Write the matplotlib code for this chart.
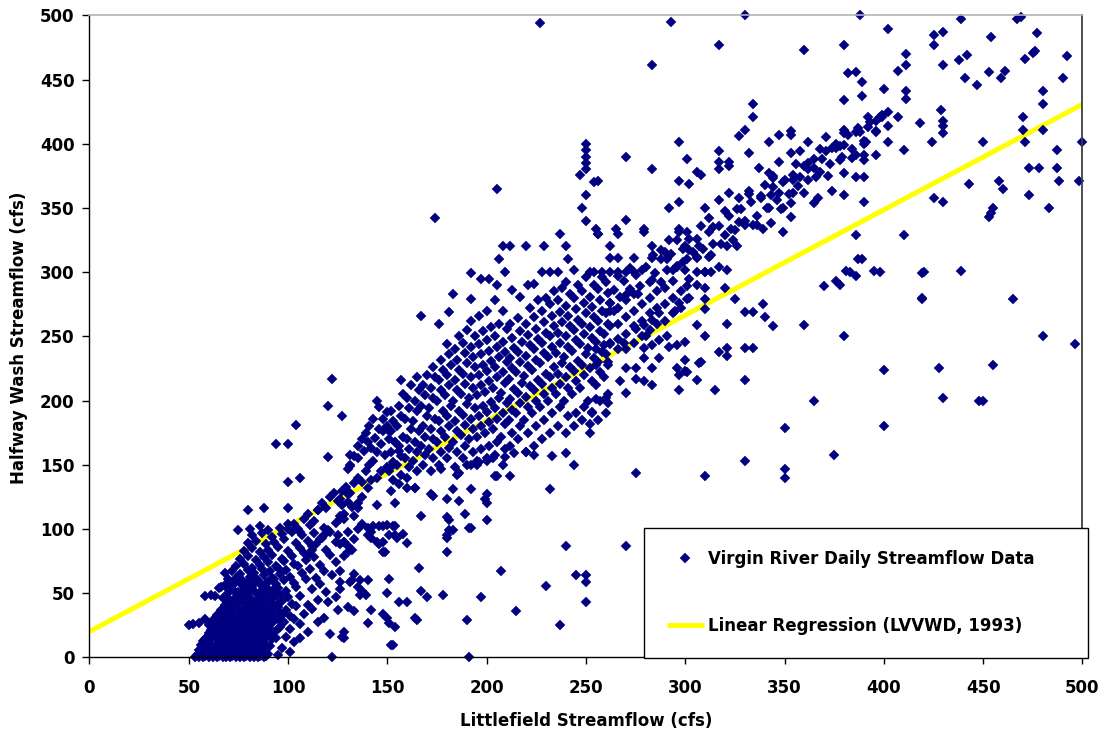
import matplotlib
matplotlib.use("Agg")
import matplotlib.pyplot as plt
from matplotlib.lines import Line2D

# ---- Data: (Littlefield cfs, Halfway Wash cfs) daily pairs, grouped by flow range ----
low_flow = [
    (50,25),(52,26),(55,27),(58,30),(61,49),(65,54),(68,56),
    (53,0),(55,0),(57,0),(60,0),(62,0),(64,0),(67,0),(69,0),(71,0),(74,0),(76,0),(78,0),(81,0),(83,0),(85,0),(88,0),
    (56,4),(59,3),(63,5),(66,3),(70,4),(73,6),(77,3),(80,5),(84,4),(87,2),(90,3),(95,2),(101,4),
    (58,8),(61,9),(65,7),(68,10),(72,8),(75,9),(79,7),(82,10),(86,8),(89,9),(97,7),
    (57,13),(60,12),(64,14),(67,11),(71,13),(74,12),(78,14),(81,11),(85,13),(88,12),(92,14),(103,12),
    (59,16),(62,18),(66,16),(69,17),(73,15),(76,18),(80,16),(83,17),(87,15),(90,18),(99,16),(106,15),
    (61,21),(64,20),(68,22),(71,19),(75,21),(78,20),(82,22),(85,19),(89,21),(93,20),(101,22),(110,20),
    (60,25),(63,24),(67,26),(70,23),(74,25),(77,24),(81,26),(84,23),(88,25),(92,27),(96,24),(106,26),
    (62,29),(65,28),(69,30),(72,27),(76,29),(79,28),(83,30),(86,27),(90,29),(94,31),(98,28),(103,30),(115,28),
    (64,33),(67,32),(71,34),(74,31),(78,33),(81,32),(85,34),(88,31),(92,33),(96,35),(101,32),(108,34),(118,31),
    (66,37),(70,36),(73,38),(77,35),(80,37),(84,36),(87,38),(91,36),(95,39),(99,37),(104,40),(112,38),
    (68,41),(72,40),(75,42),(79,39),(82,41),(86,40),(89,43),(93,41),(97,44),(102,42),(110,41),(120,43),
    (67,46),(71,45),(74,47),(78,44),(81,46),(85,45),(88,48),(92,46),(96,49),(100,47),(106,48),(115,45),(124,47),
    (58,48),(63,48),(70,50),(73,52),(77,49),(80,51),(84,50),(88,53),(91,51),(95,54),(99,52),(104,55),(112,53),(119,51),
    (66,55),(69,57),(72,56),(76,58),(79,55),(83,57),(87,56),(90,59),(94,57),(98,60),(103,58),(109,61),(116,57),
    (70,61),(74,62),(77,60),(81,63),(84,61),(88,64),(92,62),(96,65),(101,63),(107,66),(114,62),(122,64),
    (68,66),(72,67),(76,65),(80,68),(83,66),(87,69),(91,67),(95,70),(99,68),(105,71),(111,69),(118,67),
    (74,71),(78,73),(82,70),(86,72),(90,74),(94,71),(98,75),(103,73),(109,76),(116,72),(124,74),
    (76,77),(80,79),(84,76),(88,78),(92,80),(97,77),(102,79),(108,81),(113,78),(121,80),
    (78,83),(82,85),(86,82),(90,84),(95,86),(100,83),(106,85),(112,87),(119,84),
    (80,89),(84,91),(89,88),(93,90),(98,92),(104,89),(110,91),(117,93),(124,90),
    (82,95),(87,97),(92,94),(97,96),(102,98),(107,95),(113,97),(120,99),
    (81,100),(86,102),(90,99),(96,101),(100,104),(105,100),(111,103),(118,101),
]

low_flow_core = [
    (54,2),(58,1),(61,2),(65,1),(68,2),(72,1),(75,2),(79,1),(82,2),(86,1),(89,1),
    (55,6),(58,6),(62,5),(66,6),(69,5),(73,3),(76,5),(80,8),(83,6),(87,6),
    (56,10),(59,11),(63,9),(66,12),(70,10),(73,9),(77,11),(80,13),(84,10),(87,11),(91,9),
    (58,14),(61,15),(65,14),(68,13),(72,16),(75,14),(79,12),(82,15),(86,14),(89,16),(94,15),
    (60,19),(63,17),(67,19),(70,21),(74,18),(77,17),(81,19),(84,21),(88,18),(91,22),
    (62,23),(66,22),(69,25),(73,22),(76,27),(80,23),(83,25),(87,22),(90,25),(95,22),
    (63,27),(67,29),(71,26),(75,31),(78,26),(82,27),(85,31),(89,27),(92,29),
    (65,31),(69,33),(73,30),(76,34),(80,31),(84,29),(87,34),(91,32),(95,30),
    (67,35),(71,38),(75,33),(79,37),(82,35),(86,33),(89,36),(93,38),(97,33),
    (69,39),(73,42),(77,37),(81,43),(84,38),(88,44),(91,40),(95,42),
    (70,44),(76,45),(80,48),(83,43),(87,47),(90,45),(94,48),
    (72,53),(75,51),(78,53),(82,54),(86,51),(89,55),(93,53),
    (73,58),(77,57),(80,59),(85,60),(89,58),(93,61),
]

rising_limb = [
    (100,100),(103,104),(106,98),(108,108),(110,112),(113,106),(115,115),(117,120),(119,116),(121,125),
    (123,128),(125,122),(127,130),(129,133),(131,128),(133,136),(135,140),(137,137),(139,145),(141,150),
    (143,153),(145,160),(147,166),(149,158),(151,170),(150,180),(148,176),(146,195),(145,200),(143,186),
    (141,180),(139,175),(137,170),(135,165),(133,157),(131,150),(130,147),(135,155),(138,161),(140,168),
    (142,163),(144,171),(146,178),(148,186),(150,191),(152,176),(154,168),(156,161),(153,150),(150,148),
    (147,145),(145,140),(142,138),(140,132),(137,125),(135,120),(132,117),(130,121),(128,112),(126,110),
    (124,105),(121,98),(118,95),(116,92),(114,88),(112,84),(110,80),(125,95),(128,90),(130,87),(132,84),
    (135,100),(137,104),(140,101),(142,93),
    (94,166),(100,166),(104,181),(100,137),(106,140),(80,115),(88,116),(100,116),(115,115),(75,99),
    (120,196),(122,217),(127,188),(120,156),(131,158),(131,149),
]

mid_lower = [
    (191,0),(153,10),(128,20),(128,15),(140,27),(133,36),(130,39),(142,37),(148,34),(150,31),(151,27),
    (154,24),(165,29),(190,29),(215,36),(237,25),(160,43),(170,47),(167,52),(178,49),(197,47),(207,67),
    (230,56),(245,64),(250,64),(250,59),(250,43),(240,87),(166,70),(151,61),(150,50),(136,60),(133,65),
    (132,60),(140,60),(135,55),(136,49),(139,49),(126,67),(126,59),(126,53),(180,82),(183,99),(180,95),
    (180,93),(183,131),(180,123),(180,109),(192,131),(189,112),(192,101),(200,127),(200,120),(200,107),
    (173,126),(177,147),(186,144),(185,142),(190,150),(195,153),(195,150),(200,153),(203,155),(205,141),
    (209,156),(212,141),(214,159),(220,160),(224,158),(233,157),(240,159),(244,150),(232,131),(160,132),
    (164,132),(167,110),(160,89),(154,120),(154,102),(154,95),(150,103),(151,95),(145,119),(145,90),
    (148,90),(149,82),(142,98),(140,95),(143,102),(146,102),(130,98),(128,90),(126,88),(130,82),(128,79),
    (133,92),(126,108),(128,108),(133,110),(135,116),(130,127),(126,123),(127,119),(122,0),(121,18),
    (127,16),(125,37),(131,59),(137,52),(152,10),(156,43),(155,93),(153,102),(148,102),(146,88),(148,82),
    (158,96),(164,31),(172,127),(181,99),(181,107),(186,122),(191,101),(199,123),(204,141),(270,87),
    (275,144),(174,342),(205,365),
]

main_body = [
    (152,130),(153,138),(151,145),(153,152),(152,160),(154,168),(151,176),(153,184),(152,192),
    (156,135),(157,142),(155,150),(157,157),(156,165),(158,172),(155,180),(157,188),(156,196),(158,205),(157,216),
    (160,140),(161,148),(159,155),(161,162),(160,170),(162,178),(159,186),(161,194),(160,202),(162,212),
    (164,132),(165,145),(163,153),(165,160),(164,168),(166,176),(163,184),(165,192),(164,200),(166,208),(165,218),
    (168,150),(169,158),(167,165),(169,172),(168,180),(170,188),(167,196),(169,204),(168,212),(170,220),(167,266),
    (172,145),(173,155),(171,162),(173,170),(172,178),(174,186),(171,194),(173,202),(172,210),(174,218),(173,226),
    (176,150),(177,160),(175,168),(177,176),(176,184),(178,192),(175,200),(177,208),(176,216),(178,224),(177,232),(176,260),
    (180,155),(181,163),(179,172),(181,180),(180,188),(182,196),(179,204),(181,212),(180,220),(182,228),(181,236),(180,244),(181,269),
    (184,148),(185,160),(183,168),(185,176),(184,184),(186,192),(183,200),(185,208),(184,216),(186,224),(185,232),(184,240),(186,250),(183,283),
    (188,155),(189,165),(187,173),(189,181),(188,189),(190,197),(187,205),(189,213),(188,221),(190,229),(189,237),(188,245),(190,255),
    (192,150),(193,160),(191,170),(193,178),(192,186),(194,194),(191,202),(193,210),(192,218),(194,226),(193,234),(192,242),(194,250),(192,262),(192,279),(192,299),
    (196,152),(197,162),(195,172),(197,180),(196,188),(198,196),(195,204),(197,212),(196,220),(198,228),(197,236),(196,244),(198,254),(196,266),(197,295),
    (200,155),(201,165),(199,175),(201,183),(200,191),(202,199),(199,207),(201,215),(200,223),(202,231),(201,239),(200,247),(202,257),(200,270),(201,295),
    (204,158),(205,168),(203,178),(205,186),(204,194),(206,202),(203,210),(205,218),(204,226),(206,234),(205,242),(204,250),(206,260),(204,278),(205,290),(206,310),
    (208,150),(209,162),(207,172),(209,182),(208,190),(210,198),(207,206),(209,214),(208,222),(210,230),(209,238),(208,246),(210,256),(208,270),(209,300),(208,320),
    (212,165),(213,175),(211,185),(213,193),(212,201),(214,209),(211,217),(213,225),(212,233),(214,241),(213,249),(212,260),(213,286),(212,320),
    (216,170),(217,180),(215,190),(217,198),(216,206),(218,214),(215,222),(217,230),(216,238),(218,246),(217,254),(216,264),(217,281),
    (220,160),(221,175),(219,185),(221,195),(220,203),(222,211),(219,219),(221,227),(220,235),(222,243),(221,251),(220,260),(222,272),(221,290),(220,320),
    (224,165),(225,180),(223,190),(225,200),(224,208),(226,216),(223,224),(225,232),(224,240),(226,248),(225,256),(224,265),(226,278),(224,291),
    (228,170),(229,185),(227,195),(229,205),(228,213),(230,221),(227,229),(229,237),(228,245),(230,253),(229,261),(228,270),(230,280),(228,300),(229,320),
    (232,175),(233,190),(231,200),(233,210),(232,218),(234,226),(231,234),(233,242),(232,250),(234,258),(233,266),(232,275),(234,285),(232,300),
    (236,180),(237,195),(235,205),(237,213),(236,221),(238,229),(235,237),(237,245),(236,253),(238,261),(237,269),(236,278),(238,288),(236,300),(237,330),
    (240,175),(241,188),(239,200),(241,210),(240,218),(242,226),(239,234),(241,242),(240,250),(242,258),(241,266),(240,274),(242,283),(240,292),(241,310),(240,320),
    (244,180),(245,190),(243,205),(245,215),(244,223),(246,231),(243,239),(245,247),(244,255),(246,263),(245,271),(244,280),(246,290),(244,302),
    (248,185),(249,195),(247,210),(249,220),(248,228),(250,236),(247,244),(249,252),(248,260),(250,268),(249,276),(248,285),(250,296),(248,350),(247,376),
    (252,175),(253,190),(251,200),(253,215),(252,225),(254,233),(251,241),(253,249),(252,257),(254,265),(253,273),(252,281),(254,290),(252,300),
    (250,340),(250,360),(250,380),(250,385),(250,390),(250,395),(250,400),(254,370),
    (256,185),(257,200),(255,212),(257,222),(256,230),(258,238),(255,246),(257,254),(256,262),(258,270),(257,278),(256,287),(258,296),(256,330),
    (260,190),(261,205),(259,218),(261,228),(260,236),(262,244),(259,252),(261,260),(260,268),(262,276),(261,284),(260,292),(262,300),
    (262,258),(262,270),(266,260),(266,272),(270,252),(270,265),(270,278),(274,258),(274,270),(274,283),
    (278,262),(278,275),(282,268),(282,280),(286,272),(286,285),(290,275),(290,288),(294,280),(294,293),
    (298,285),(302,295),(306,300),(262,245),(266,248),(270,240),(274,245),(278,250),(282,255),(286,260),
    (290,262),(294,268),(298,272),(302,280),(306,290),(310,300),
]

upper_ridge = [
    (262,276),(264,286),(267,281),(269,293),(272,287),(275,298),(277,289),(280,304),(283,294),(285,299),
    (288,310),(291,302),(293,314),(296,305),(299,318),(301,310),(304,316),(306,326),(309,318),(312,331),
    (314,322),(317,336),(320,329),(322,344),(325,333),(328,349),(330,340),(333,355),(336,344),(338,358),
    (341,350),(344,366),(346,356),(349,370),(352,361),(354,376),(357,367),(360,383),(362,372),(365,388),
    (368,378),(371,394),(373,384),(376,400),(379,390),(382,407),(384,396),(387,412),(390,402),(393,417),
    (396,409),(399,422),(402,414),
    (266,297),(272,303),(278,302),(284,313),(290,316),(296,325),(302,326),(308,336),(314,335),(320,348),
    (326,349),(332,361),(338,359),(344,373),(350,372),(356,384),(362,385),(368,396),(374,397),(380,408),
    (386,409),(392,421),(398,421),
    (264,270),(270,282),(276,283),(282,292),(288,292),(294,302),(300,302),(306,312),(312,312),(318,322),
    (324,325),(330,337),(336,337),(342,350),(348,349),(354,362),(360,362),(366,374),(372,375),(378,387),
    (384,389),(390,400),
    (256,330),(266,330),(279,331),(297,331),(301,331),(349,331),(262,320),(283,320),(288,317),(292,325),
    (300,320),(302,317),(307,320),(313,313),(321,320),(326,320),(262,311),(266,311),(274,311),(283,311),
    (291,310),(296,304),(299,308),(306,311),(310,300),(313,300),(317,304),(321,302),(254,300),(258,300),
    (266,300),(270,300),(274,300),(255,334),(265,334),(279,334),(297,334),(312,342),(323,334),
    (327,339),(334,337),(339,334),(343,338),(353,343),(270,341),(292,350),(297,355),(310,350),(317,356),
    (322,362),(332,363),(327,358),(337,381),(342,377),(344,375),(347,386),(340,368),(343,360),(347,362),
    (349,350),(353,354),(354,372),(358,374),(362,380),(365,381),(369,388),(367,358),(365,354),(374,363),
    (256,371),(283,380),(301,388),(306,378),(308,376),(297,371),(302,369),(317,386),(317,380),(322,386),
    (322,383),(270,390),(297,401),(317,394),(332,393),(347,407),(342,401),(353,410),(353,407),(353,393),
    (358,394),(362,401),(371,405),(376,397),(327,406),(330,411),(334,421),(334,431),
]

high_flow = [
    (227,494),(293,495),(330,500),(388,500),(317,477),(283,461),(360,473),(380,477),(402,489),(425,485),
    (430,487),(425,477),(439,497),(467,497),(469,499),(454,483),(477,486),(411,470),(411,461),(407,457),
    (430,461),(438,465),(442,469),(471,466),(475,471),(476,472),(492,468),(382,455),(386,456),(389,448),
    (441,451),(447,446),(453,456),(459,451),(461,457),(490,451),(400,443),(389,437),(380,434),(411,441),
    (411,435),(480,441),(429,426),(480,431),(402,425),(399,421),(396,418),(407,421),(418,416),(430,418),
    (430,414),(430,408),(470,421),(470,411),(480,411),(380,411),(388,409),(392,413),(396,410),(380,399),
    (378,398),(391,401),(402,401),(424,401),(450,401),(471,401),(500,401),(386,391),(390,391),(390,387),
    (396,391),(410,395),(487,395),(380,377),(386,374),(390,374),(380,360),(390,355),(443,369),(458,371),
    (460,365),(425,358),(430,355),(455,350),(454,346),(453,343),(473,381),(478,381),(487,381),(488,371),
    (498,371),(473,360),(483,350),
]

right_tail = [
    (386,329),(410,329),(389,310),(381,301),(386,297),(395,301),(419,299),(439,301),(419,279),(465,279),
    (380,250),(480,250),(496,244),(400,224),(428,225),(455,228),(430,202),(448,200),(450,200),(400,180),
    (301,289),(310,288),(301,279),(310,279),(320,288),(325,279),(310,271),(297,276),(295,270),(287,268),
    (283,263),(279,259),(275,256),(306,259),(321,260),(330,269),(334,269),(339,275),(340,265),(344,258),
    (310,250),(291,250),(287,247),(283,243),(280,250),(300,246),(296,243),(292,242),(279,241),(269,245),
    (266,240),(259,243),(255,240),(261,230),(255,228),(270,225),(275,225),(279,233),(283,225),(287,233),
    (296,225),(297,220),(300,223),(300,232),(301,222),(307,229),(308,230),(306,216),(297,208),(315,208),
    (317,238),(321,241),(321,235),(330,241),(334,241),(330,216),(360,259),(370,289),(376,293),(365,200),
    (350,179),(283,212),(279,215),(275,217),(267,215),(270,206),(261,198),(260,202),(255,201),(253,191),
    (252,182),(350,147),(350,140),(330,153),(310,141),(375,158),(378,290),(383,300),(387,310),(398,300),
    (420,300),(419,280),
]

# LVVWD (1993) regression: Halfway Wash = intercept + slope * Littlefield
reg_intercept = 20.2
reg_slope = 0.821
reg_x = [0, 500]

x_ticks = [0, 50, 100, 150, 200, 250, 300, 350, 400, 450, 500]
y_ticks = [0, 50, 100, 150, 200, 250, 300, 350, 400, 450, 500]

series_label = "Virgin River Daily Streamflow Data"
line_label = "Linear Regression (LVVWD, 1993)"
x_title = "Littlefield Streamflow (cfs)"
y_title = "Halfway Wash Streamflow (cfs)"

# ---- Figure ----
plt.rcParams["font.family"] = ["DejaVu Sans"]
plt.rcParams["font.weight"] = "bold"

fig = plt.figure(figsize=(11.03, 7.36), dpi=100)
ax = fig.add_axes([0.0811, 0.1067, 0.9003, 0.8725])

groups = [low_flow, low_flow_core, rising_limb, mid_lower, main_body, upper_ridge, high_flow, right_tail]
pts = [p for g in groups for p in g]
xs = [p[0] for p in pts]
ys = [p[1] for p in pts]

navy = "#000080"
ax.plot(reg_x, [reg_intercept + reg_slope * v for v in reg_x], color="#FFFF00",
        lw=3.6, solid_capstyle="butt", zorder=2)
ax.plot(xs, ys, linestyle="none", marker="D", ms=4.6, color=navy, mec=navy,
        mew=0.3, zorder=3, clip_on=False)

ax.set_xlim(0, 500)
ax.set_ylim(0, 500)
ax.set_xticks(x_ticks)
ax.set_yticks(y_ticks)

for side in ("left", "bottom"):
    ax.spines[side].set_color("black")
    ax.spines[side].set_linewidth(1.0)
ax.spines["top"].set_color("#b4b4b4")
ax.spines["top"].set_linewidth(1.2)
ax.spines["right"].set_color("#404040")
ax.spines["right"].set_linewidth(1.3)
for s in ax.spines.values():
    s.set_zorder(4)

ax.tick_params(axis="both", direction="out", length=4.8, width=1.0, color="black",
               labelsize=12)
ax.tick_params(axis="x", pad=11)
ax.tick_params(axis="y", pad=6)
for lab in ax.get_xticklabels() + ax.get_yticklabels():
    lab.set_fontweight("bold")

fig.text(586 / 1103, 1 - 721 / 736, x_title, ha="center", va="center",
         fontsize=12, fontweight="bold")
fig.text(19 / 1103, 1 - 338 / 736, y_title, ha="center", va="center",
         rotation=90, fontsize=12, fontweight="bold")

handles = [
    Line2D([], [], linestyle="none", marker="D", ms=4.6, color=navy, mec=navy, mew=0.3),
    Line2D([], [], color="#FFFF00", lw=3.6, solid_capstyle="butt"),
]
leg = ax.legend(handles, [series_label, line_label],
                loc="lower left",
                bbox_to_anchor=(644 / 1103, 1 - 657.5 / 736, 444 / 1103, 133 / 736),
                bbox_transform=fig.transFigure, mode="expand", borderaxespad=0,
                prop={"size": 12, "weight": "bold"}, frameon=True, fancybox=False,
                shadow=False, framealpha=1, edgecolor="black", borderpad=1.37,
                labelspacing=2.9, handlelength=2.2, handletextpad=0.3)
leg.get_frame().set_linewidth(1.0)
leg.set_zorder(10)

fig.savefig("out.png", dpi=100, facecolor="white")
